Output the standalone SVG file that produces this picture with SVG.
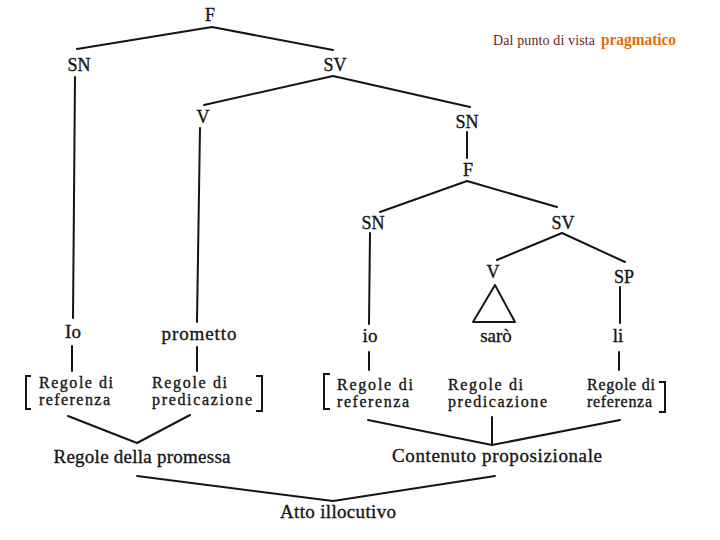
<svg xmlns="http://www.w3.org/2000/svg" width="720" height="540" viewBox="0 0 720 540">
<style>
.t{font-family:"Liberation Serif","Times New Roman",serif;fill:#151515;stroke:#151515;stroke-width:0.35;text-anchor:middle}
.n{font-size:18px}
.s{font-size:19px}
.w{font-size:19px}
.r{font-size:16px;text-anchor:start}
.c line,.c polyline,.c path{stroke:#151515;stroke-width:2;fill:none;stroke-linecap:round;stroke-linejoin:round}
.b{stroke:#151515;stroke-width:2;fill:none}
</style>
<rect width="720" height="540" fill="#fff"/>
<g id="title">
<text x="493" y="45" font-family="Liberation Serif, serif" font-size="14" fill="#6b1c1c" textLength="102" lengthAdjust="spacing">Dal punto di vista</text>
<text x="601" y="45" font-family="Liberation Serif, serif" font-size="16" font-weight="bold" fill="#e46c0a" textLength="75" lengthAdjust="spacingAndGlyphs">pragmatico</text>
</g>
<g class="c" id="connectors">
<polyline points="77,49 212,27 333,50"/>
<line x1="75" y1="77" x2="73" y2="318"/>
<line x1="72" y1="346" x2="72" y2="371"/>
<polyline points="204,105 333,76 470,107"/>
<line x1="200" y1="128" x2="197" y2="322"/>
<line x1="197" y1="347" x2="197" y2="371"/>
<line x1="467" y1="132" x2="467" y2="158"/>
<polyline points="380,212 467,181 557,207"/>
<line x1="370" y1="233" x2="369" y2="324"/>
<line x1="369" y1="352" x2="369" y2="370"/>
<polyline points="497,260 562,233 625,262"/>
<line x1="620" y1="287" x2="620" y2="323"/>
<line x1="619" y1="352" x2="619" y2="370"/>
<polyline points="68,416 137,443 190,415"/>
<polyline points="368,420 492,445 620,420"/>
<line x1="492" y1="417" x2="492" y2="445"/>
<polyline points="137,476 333,501 495,476"/>
</g>
<g id="F"><text class="t n" x="210" y="21">F</text></g>
<g id="SN1"><text class="t n" x="79" y="71">SN</text></g>
<g id="SV1"><text class="t n" x="335" y="71">SV</text></g>
<g id="V1"><text class="t n" x="203" y="123" font-size="16">V</text></g>
<g id="SN2"><text class="t n" x="467" y="128">SN</text></g>
<g id="F2"><text class="t n" x="468" y="176">F</text></g>
<g id="SN3"><text class="t n" x="373" y="229">SN</text></g>
<g id="SV3"><text class="t n" x="563" y="229">SV</text></g>
<g id="V3"><text class="t n" x="493" y="278" font-size="16">V</text></g>
<g id="SP"><text class="t n" x="624" y="283">SP</text></g>
<g id="tri"><polygon class="b" points="495,285 473,322 515,322" stroke-linejoin="round"/></g>
<g id="Io"><text class="t s" x="73" y="338">Io</text></g>
<g id="prometto"><text class="t s" x="199" y="340" textLength="75" lengthAdjust="spacing">prometto</text></g>
<g id="io"><text class="t s" x="370" y="342">io</text></g>
<g id="saro"><text class="t s" x="496" y="342">sarò</text></g>
<g id="li"><text class="t s" x="618" y="342">li</text></g>
<g id="regole-left">
<path class="b" d="M31,376 H26 V409 H31"/>
<text class="t r"><tspan x="39" y="388" textLength="74" lengthAdjust="spacing">Regole di</tspan><tspan x="39" y="405" textLength="71" lengthAdjust="spacing">referenza</tspan></text>
<text class="t r"><tspan x="152" y="388" textLength="75" lengthAdjust="spacing">Regole di</tspan><tspan x="152" y="405" textLength="100" lengthAdjust="spacing">predicazione</tspan></text>
<path class="b" d="M256,376 H262 V411 H256"/>
</g>
<g id="regole-right">
<path class="b" d="M330,374 H324 V409 H330"/>
<text class="t r"><tspan x="337" y="390" textLength="76" lengthAdjust="spacing">Regole di</tspan><tspan x="337" y="407" textLength="72" lengthAdjust="spacing">referenza</tspan></text>
<text class="t r"><tspan x="448" y="390" textLength="75" lengthAdjust="spacing">Regole di</tspan><tspan x="448" y="407" textLength="99" lengthAdjust="spacing">predicazione</tspan></text>
<text class="t r"><tspan x="587" y="390" textLength="68" lengthAdjust="spacing">Regole di</tspan><tspan x="587" y="407" textLength="65" lengthAdjust="spacing">referenza</tspan></text>
<path class="b" d="M659,382 H665 V412 H659"/>
</g>
<g id="promessa"><text class="t w" x="142" y="463" textLength="177" lengthAdjust="spacing">Regole della promessa</text></g>
<g id="contenuto"><text class="t w" x="497" y="462" textLength="210" lengthAdjust="spacing">Contenuto proposizionale</text></g>
<g id="atto"><text class="t w" x="338" y="518" textLength="116" lengthAdjust="spacing">Atto illocutivo</text></g>
</svg>
